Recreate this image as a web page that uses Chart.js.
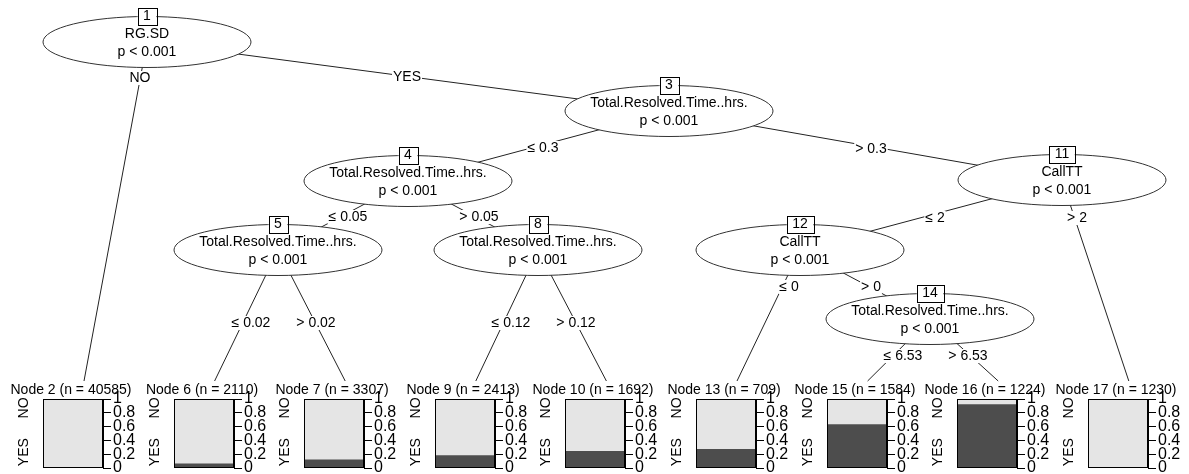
<!DOCTYPE html>
<html>
<head>
<meta charset="utf-8">
<script src="https://cdn.jsdelivr.net/npm/chart.js@4"></script>
<style>
  html, body { margin: 0; padding: 0; background: #fff; overflow: hidden; }
  #wrap { position: relative; width: 1189px; height: 474px; }
  #tree { position: absolute; left: 0; top: 0; }
  .term { position: absolute; }
</style>
</head>
<body>
<div id="wrap">
  <canvas id="tree" width="1189" height="474"></canvas>
</div>
<script>
// inner (split) nodes
const innerIds = [1, 3, 4, 5, 8, 11, 12, 14];
const innerVars = ["RG.SD", "Total.Resolved.Time..hrs.", "Total.Resolved.Time..hrs.", "Total.Resolved.Time..hrs.",
  "Total.Resolved.Time..hrs.", "CallTT", "CallTT", "Total.Resolved.Time..hrs."];
const innerP = ["p < 0.001", "p < 0.001", "p < 0.001", "p < 0.001", "p < 0.001", "p < 0.001", "p < 0.001", "p < 0.001"];

// terminal nodes
const termIds = [2, 6, 7, 9, 10, 13, 15, 16, 17];
const termN = [40585, 2110, 3307, 2413, 1692, 709, 1584, 1224, 1230];
const termYes = [0, 0.06, 0.12, 0.18, 0.24, 0.27, 0.63, 0.92, 0];
const termNo = [1, 0.94, 0.88, 0.82, 0.76, 0.73, 0.37, 0.08, 1];
const classLabels = ["YES", "NO"];
const propTicks = [0, 0.2, 0.4, 0.6, 0.8, 1];

// edges: parent -> child, with split labels
const edgeFrom = [1, 1, 3, 3, 4, 4, 5, 5, 8, 8, 11, 11, 12, 12, 14, 14];
const edgeTo = [2, 3, 4, 11, 5, 8, 6, 7, 9, 10, 12, 17, 13, 14, 15, 16];
const edgeLabels = ["NO", "YES", "\u2264 0.3", "> 0.3", "\u2264 0.05", "> 0.05", "\u2264 0.02", "> 0.02",
  "\u2264 0.12", "> 0.12", "\u2264 2", "> 2", "\u2264 0", "> 0", "\u2264 6.53", "> 6.53"];

// layout (pixels)
const innerPos = {1: [147, 42], 3: [669, 111], 4: [408, 181], 5: [278, 250], 8: [538, 250],
  11: [1062, 180], 12: [800, 250], 14: [930, 319]};
const edgeLabelPos = [[140, 78], [407, 77], [543, 148], [871, 149], [348, 217], [479, 217], [251, 323], [316, 323],
  [511, 323], [576, 323], [935, 218], [1077, 218], [789, 287], [871, 287], [903, 356], [968, 356]];
const boxLeft0 = 43, boxStep = 130.6, termTop = 381;
const FAMILY = '"Liberation Sans", Arial, sans-serif';
const FONT = '14px ' + FAMILY;

Chart.defaults.font.family = FAMILY;
Chart.defaults.font.size = 14;
Chart.defaults.color = "#000";

function nodePos(id) {
  if (innerPos[id]) return innerPos[id];
  const i = termIds.indexOf(id);
  return [boxLeft0 + boxStep * i + 41, termTop];
}

const edgeSets = edgeFrom.map((f, k) => ({
  data: [{x: nodePos(f)[0], y: nodePos(f)[1]}, {x: nodePos(edgeTo[k])[0], y: nodePos(edgeTo[k])[1]}],
  showLine: true,
  borderColor: "#222",
  borderWidth: 1,
  pointRadius: 0
}));

const treeNodes = {
  id: "treeNodes",
  afterDatasetsDraw(chart) {
    const ctx = chart.ctx;
    const sx = chart.scales.x, sy = chart.scales.y;
    ctx.save();
    ctx.font = FONT;
    ctx.textAlign = "center";
    ctx.textBaseline = "middle";
    // edge labels
    edgeLabels.forEach((lab, k) => {
      const x = sx.getPixelForValue(edgeLabelPos[k][0]);
      const y = sy.getPixelForValue(edgeLabelPos[k][1]);
      const w = ctx.measureText(lab).width;
      ctx.fillStyle = "#fff";
      ctx.fillRect(x - w / 2 - 1, y - 7, w + 2, 14);
      ctx.fillStyle = "#000";
      ctx.fillText(lab, x, y);
    });
    // split nodes
    innerIds.forEach((id, k) => {
      const cx = sx.getPixelForValue(innerPos[id][0]);
      const cy = sy.getPixelForValue(innerPos[id][1]);
      ctx.beginPath();
      ctx.ellipse(cx, cy, 104, 25.5, 0, 0, Math.PI * 2);
      ctx.fillStyle = "#fff";
      ctx.fill();
      ctx.lineWidth = 1;
      ctx.strokeStyle = "#333";
      ctx.stroke();
      ctx.fillStyle = "#000";
      ctx.fillText(innerVars[k], cx, cy - 8);
      ctx.fillText(innerP[k], cx, cy + 10);
      const t = String(id);
      const w = ctx.measureText(t).width + 11;
      const top = cy - 25.5;
      ctx.fillStyle = "#fff";
      ctx.fillRect(cx - w / 2, top - 8.5, w, 17);
      ctx.strokeStyle = "#000";
      ctx.strokeRect(Math.round(cx - w / 2) + 0.5, Math.round(top - 8.5) + 0.5, Math.round(w), 17);
      ctx.fillStyle = "#000";
      ctx.fillText(t, cx, top);
    });
    ctx.restore();
  }
};

new Chart(document.getElementById("tree"), {
  type: "scatter",
  data: { datasets: edgeSets },
  options: {
    responsive: false,
    animation: false,
    layout: { padding: 0 },
    plugins: { legend: { display: false }, tooltip: { enabled: false } },
    scales: {
      x: { type: "linear", min: 0, max: 1189, display: false },
      y: { type: "linear", min: 0, max: 474, reverse: true, display: false }
    }
  },
  plugins: [treeNodes]
});

// terminal node panels
const termDeco = {
  id: "termDeco",
  afterDraw(chart) {
    const ctx = chart.ctx;
    const a = chart.chartArea;
    const k = chart.options.plugins.termDeco.k;
    ctx.save();
    ctx.strokeStyle = "#000";
    ctx.lineWidth = 1;
    ctx.strokeRect(Math.round(a.left) + 0.5, Math.round(a.top) + 0.5, Math.round(a.right - a.left) - 1, Math.round(a.bottom - a.top) - 1);
    ctx.font = FONT;
    ctx.fillStyle = "#000";
    ctx.textAlign = "center";
    ctx.textBaseline = "middle";
    ctx.fillText("Node " + termIds[k] + " (n = " + termN[k] + ")", (a.left + a.right) / 2 - 2, 10);
    const ys = chart.scales.y;
    [[classLabels[1], 0.87], [classLabels[0], 0.23]].forEach(([lab, v]) => {
      ctx.save();
      ctx.translate(a.left - 19, ys.getPixelForValue(v));
      ctx.rotate(-Math.PI / 2);
      ctx.fillText(lab, 0, 0);
      ctx.restore();
    });
    ctx.restore();
  }
};

termIds.forEach((id, k) => {
  const left = Math.round(boxLeft0 + boxStep * k) - 36;
  const div = document.createElement("div");
  div.className = "term";
  div.style.left = left + "px";
  div.style.top = "380px";
  const cv = document.createElement("canvas");
  cv.width = 140;
  cv.height = 100;
  div.appendChild(cv);
  document.getElementById("wrap").appendChild(div);
  new Chart(cv, {
    type: "bar",
    data: {
      labels: [""],
      datasets: [
        { label: classLabels[0], data: [termYes[k]], backgroundColor: "#4D4D4D", barPercentage: 1, categoryPercentage: 1 },
        { label: classLabels[1], data: [termNo[k]], backgroundColor: "#E5E5E5", barPercentage: 1, categoryPercentage: 1 }
      ]
    },
    options: {
      responsive: false,
      animation: false,
      layout: { padding: { left: 36, top: 19, bottom: 12, right: 0 } },
      plugins: { legend: { display: false }, tooltip: { enabled: false }, termDeco: { k: k } },
      scales: {
        x: { stacked: true, display: false },
        y: {
          stacked: true,
          position: "right",
          min: 0,
          max: 1,
          afterBuildTicks: s => { s.ticks = propTicks.map(v => ({ value: v })); },
          afterFit: s => { s.width = 44; },
          ticks: {
            autoSkip: false,
            padding: 2,
            color: "#000",
            font: { family: FAMILY, size: 16 },
            callback: v => String(+Number(v).toFixed(1))
          },
          grid: { drawOnChartArea: false, tickLength: 8, color: "#000" },
          border: { display: true, color: "#000" }
        }
      }
    },
    plugins: [termDeco]
  });
});
</script>
</body>
</html>
